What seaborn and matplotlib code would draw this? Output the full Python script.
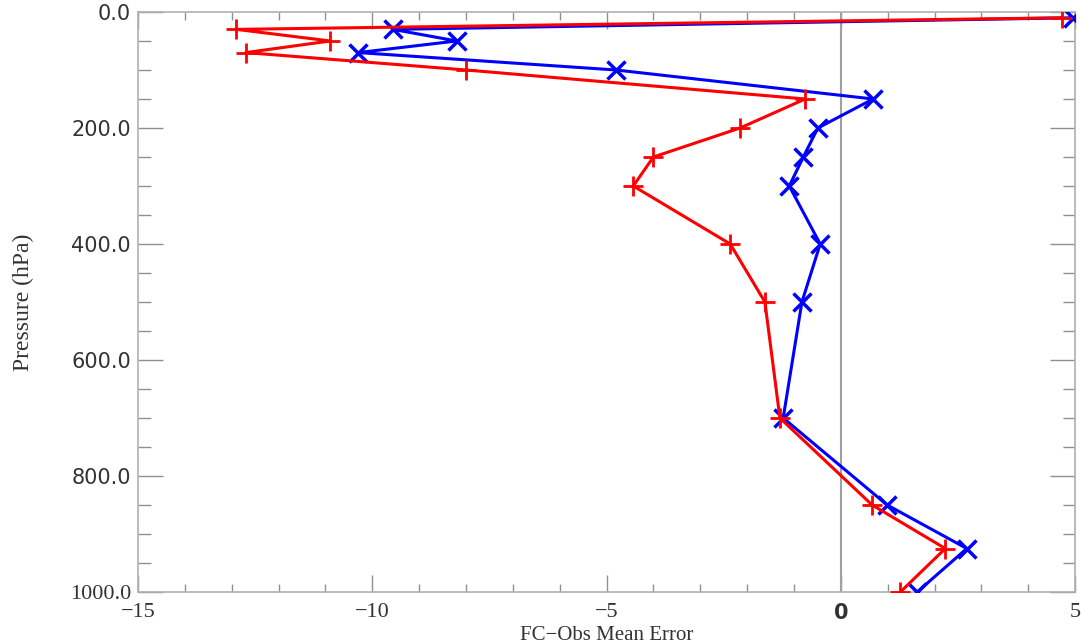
import numpy as np
import pandas as pd
import matplotlib
matplotlib.use("Agg")
import matplotlib.pyplot as plt
import matplotlib.transforms as mtransforms
import seaborn as sns
from matplotlib.ticker import MultipleLocator, FuncFormatter

# pressure levels (hPa) and mean errors
PRESSURE = [10, 30, 50, 70, 100, 150, 200, 250, 300, 400, 500, 700, 850, 925, 1000]
ERR_RED = [4.72, -12.9, -10.9, -12.7, -8.0, -0.76, -2.15, -4.0, -4.43, -2.36, -1.62, -1.30, 0.67, 2.23, 1.27]
ERR_BLUE = [4.96, -9.56, -8.2, -10.3, -4.8, 0.69, -0.49, -0.8, -1.1, -0.44, -0.83, -1.23, 0.99, 2.69, 1.63]

sns.set_style("ticks")
plt.rcParams.update({
    "font.family": "DejaVu Sans",
    "axes.edgecolor": "#b0b0b0",
    "axes.linewidth": 1.2,
    "xtick.color": "#909090",
    "ytick.color": "#909090",
    "xtick.labelcolor": "#333333",
    "ytick.labelcolor": "#333333",
})

df_red = pd.DataFrame({"err": ERR_RED, "p": PRESSURE})
df_blue = pd.DataFrame({"err": ERR_BLUE, "p": PRESSURE})

fig = plt.figure(figsize=(10.81, 6.44), dpi=100)
ax = fig.add_axes([0.1277, 0.0807, 0.8668, 0.9007])

ax.axvline(0, color="#a0a0a0", linewidth=1.5, zorder=1)

sns.lineplot(data=df_blue, x="err", y="p", sort=False, orient="y", color="#0000ff",
             linewidth=2.2, marker="x", markersize=13, markeredgewidth=2.5,
             markeredgecolor="#0000ff", ax=ax, zorder=3)
sns.lineplot(data=df_red, x="err", y="p", sort=False, orient="y", color="#ff0000",
             linewidth=2.2, marker="+", markersize=14, markeredgewidth=2,
             markeredgecolor="#ff0000", ax=ax, zorder=4)

ax.set_xlim(-15, 5)
ax.set_ylim(1000, 0)

ax.xaxis.set_major_locator(MultipleLocator(5))
ax.xaxis.set_minor_locator(MultipleLocator(1))
ax.yaxis.set_major_locator(MultipleLocator(200))
ax.yaxis.set_minor_locator(MultipleLocator(50))
ax.xaxis.set_major_formatter(FuncFormatter(lambda v, _: f"{v:g}".replace("-", "\u2212")))
ax.yaxis.set_major_formatter(FuncFormatter(lambda v, _: f"{v:.1f}"))

ax.tick_params(axis="x", which="major", direction="in", length=12, width=1,
               top=True, labelsize=15, pad=8)
ax.tick_params(axis="x", which="minor", direction="in", length=6, width=1, top=True)
ax.tick_params(axis="y", which="major", direction="in", length=18, width=1,
               right=True, labelsize=15, pad=5)
ax.tick_params(axis="y", which="minor", direction="in", length=9, width=1, right=True)

for lab in ax.get_xticklabels():
    if lab.get_text() != "0":
        lab.set_family("Liberation Serif")
        lab.set_fontsize(16)
    else:
        lab.set_weight("semibold")
for lab in ax.get_yticklabels():
    if lab.get_text() == "1000.0":
        lab.set_family("Liberation Serif")
        lab.set_fontsize(16)

# the top label sits a little below its tick in the original
top_shift = mtransforms.ScaledTranslation(0, -6 / 100, fig.dpi_scale_trans)
ax.yaxis.get_major_ticks()[0].label1.set_transform(
    ax.yaxis.get_major_ticks()[0].label1.get_transform() + top_shift)

ax.set_xlabel("FC\u2212Obs Mean Error", family="Liberation Serif", fontsize=15,
              labelpad=2, color="#333333")
ax.set_ylabel("Pressure (hPa)", family="Liberation Serif", fontsize=17,
              labelpad=26, color="#333333")

sns.despine(ax=ax, top=False, right=False)
fig.savefig("out.png", dpi=100)
